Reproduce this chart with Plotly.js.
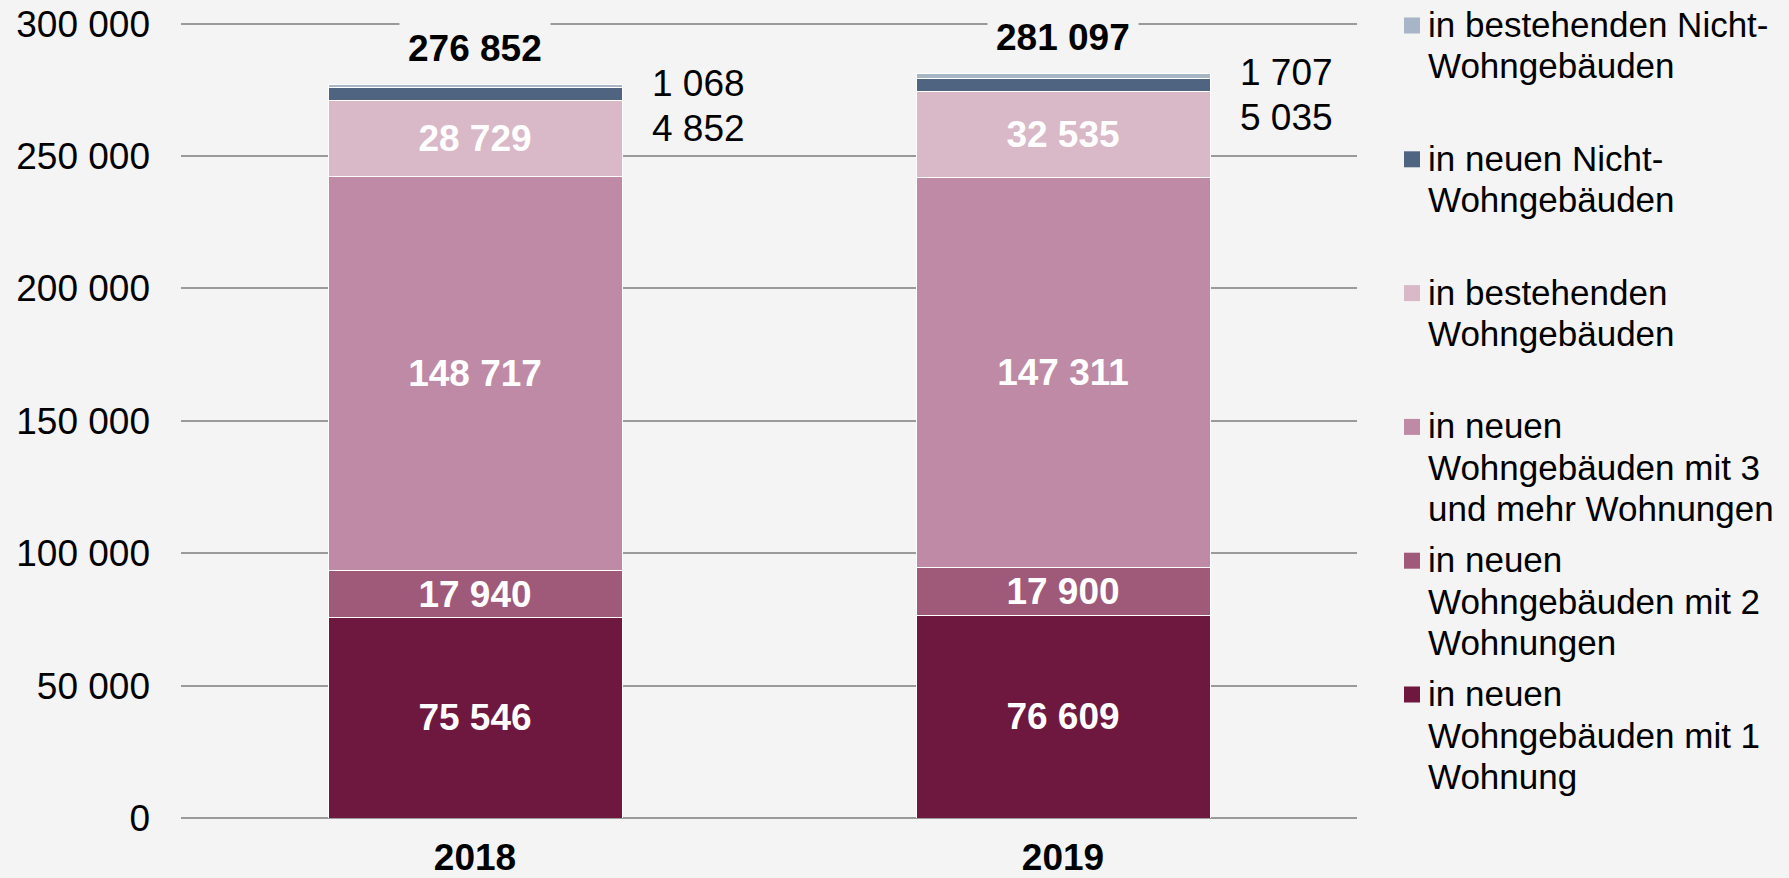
<!DOCTYPE html>
<html>
<head>
<meta charset="utf-8">
<script src="https://cdn.plot.ly/plotly-3.0.1.min.js"></script>
<style>html,body{margin:0;padding:0;background:#f4f4f4;}</style>
</head>
<body>
<div id="chart" style="width:1789px;height:878px;"></div>
<script>
// ---- data ----
const years = ['2018', '2019'];
const einWohnung = [75546, 76609];          // in neuen Wohngebäuden mit 1 Wohnung
const zweiWohnungen = [17940, 17900];       // in neuen Wohngebäuden mit 2 Wohnungen
const dreiUndMehr = [148717, 147311];       // in neuen Wohngebäuden mit 3 und mehr Wohnungen
const bestehendeWohn = [28729, 32535];      // in bestehenden Wohngebäuden
const neueNichtWohn = [4852, 5035];         // in neuen Nicht-Wohngebäuden
const bestehendeNichtWohn = [1068, 1707];   // in bestehenden Nicht-Wohngebäuden
const totals = [276852, 281097];
const yTicks = [0, 50000, 100000, 150000, 200000, 250000, 300000];

const seriesLabels = [
  ['in neuen', 'Wohngebäuden mit 1', 'Wohnung'],
  ['in neuen', 'Wohngebäuden mit 2', 'Wohnungen'],
  ['in neuen', 'Wohngebäuden mit 3', 'und mehr Wohnungen'],
  ['in bestehenden', 'Wohngebäuden'],
  ['in neuen Nicht-', 'Wohngebäuden'],
  ['in bestehenden Nicht-', 'Wohngebäuden']
];
const seriesValues = [einWohnung, zweiWohnungen, dreiUndMehr, bestehendeWohn, neueNichtWohn, bestehendeNichtWohn];
const seriesColors = ['#6e1840', '#9f5a7a', '#be8aa5', '#d9b9c8', '#4e6480', '#a7b5c6'];
const insideLabel = [true, true, true, true, false, false];

// ---- style ----
const FONT = 'Liberation Sans, Arial, Helvetica, sans-serif';
const BG = '#f4f4f4';
const W = 1789, H = 878;
const M = {l: 181, r: 432, t: 21, b: 60};
const plotW = W - M.l - M.r, plotH = H - M.t - M.b;
const px2x = px => (px - M.l) / plotW;
const py2y = py => (H - M.b - py) / plotH;
const fmt = n => String(n).replace(/\B(?=(\d{3})+(?!\d))/g, ' ');

const traces = seriesValues.map((vals, i) => ({
  type: 'bar',
  x: years,
  y: vals,
  name: seriesLabels[i].join(' '),
  marker: {color: seriesColors[i], line: {color: '#ffffff', width: 1}},
  texttemplate: insideLabel[i] ? '%{y:,}' : '',
  textposition: insideLabel[i] ? 'inside' : 'none',
  insidetextanchor: 'middle',
  constraintext: 'none',
  textangle: 0,
  textfont: {family: FONT, size: 37, color: '#ffffff', weight: 'bold'},
  hoverinfo: 'x+y+name'
}));

const annotations = [];
years.forEach((yr, i) => {
  // category axis: annotation x given as category index
  annotations.push({
    x: i, y: totals[i], xref: 'x', yref: 'y',
    text: fmt(totals[i]), showarrow: false,
    yanchor: 'middle', yshift: 36.5,
    bgcolor: BG, borderpad: 8,
    font: {family: FONT, size: 37, color: '#000', weight: 'bold'}
  });
  annotations.push({
    x: i, y: totals[i], xref: 'x', yref: 'y',
    text: fmt(bestehendeNichtWohn[i]), showarrow: false,
    xanchor: 'left', yanchor: 'middle', xshift: 175, yshift: 1.5,
    font: {family: FONT, size: 37, color: '#000'}
  });
  annotations.push({
    x: i, y: totals[i], xref: 'x', yref: 'y',
    text: fmt(neueNichtWohn[i]), showarrow: false,
    xanchor: 'left', yanchor: 'middle', xshift: 175, yshift: -43.5,
    font: {family: FONT, size: 37, color: '#000'}
  });
});

// custom legend (top to bottom = top series first)
const shapes = [];
const legendOrder = [5, 4, 3, 2, 1, 0];
legendOrder.forEach((si, k) => {
  const c = 25.5 + k * 133.8;
  shapes.push({
    type: 'rect', xref: 'paper', yref: 'paper',
    x0: px2x(1404), x1: px2x(1420), y0: py2y(c + 8), y1: py2y(c - 8),
    fillcolor: seriesColors[si], line: {width: 0}
  });
  seriesLabels[si].forEach((line, j) => {
    annotations.push({
      xref: 'paper', yref: 'paper',
      x: px2x(1427), y: py2y(c - 1 + j * 41.5),
      xanchor: 'left', yanchor: 'middle', showarrow: false,
      text: line, borderpad: 0,
      font: {family: FONT, size: 35, color: '#000'}
    });
  });
});

const layout = {
  width: W, height: H,
  margin: {l: M.l, r: M.r, t: M.t, b: M.b, pad: 0},
  paper_bgcolor: BG, plot_bgcolor: BG,
  barmode: 'stack', bargap: 0.5,
  separators: ', ',
  showlegend: false,
  font: {family: FONT, color: '#000'},
  xaxis: {
    type: 'category', range: [-0.5, 1.5], autorange: false,
    showgrid: false, zeroline: false, showline: false, ticks: '',
    tickfont: {family: FONT, size: 37, color: '#000', weight: 'bold'},
    ticklabelstandoff: 14, fixedrange: true
  },
  yaxis: {
    range: [0, 301000], autorange: false, tickvals: yTicks, tickformat: ',d',
    tickfont: {family: FONT, size: 37, color: '#000'},
    showgrid: true, gridcolor: '#9a9a9a', gridwidth: 2,
    zeroline: true, zerolinecolor: '#9a9a9a', zerolinewidth: 2,
    showline: false, ticks: '', ticklabelstandoff: 30, fixedrange: true
  },
  annotations: annotations,
  shapes: shapes
};

Plotly.newPlot('chart', traces, layout, {displayModeBar: false, staticPlot: true});
</script>
</body>
</html>
